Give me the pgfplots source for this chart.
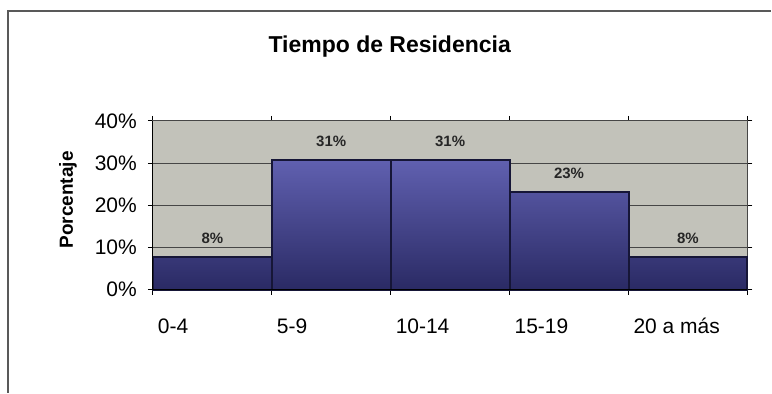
\documentclass[border=0pt]{standalone}
\usepackage{pgfplots}
\pgfplotsset{compat=1.18}
\usepackage{fontspec}
\setmainfont{Liberation Sans}
\definecolor{plotbg}{RGB}{194,194,186}
\definecolor{bartop}{RGB}{96,96,176}
\definecolor{barbot}{RGB}{42,42,100}
\definecolor{barline}{RGB}{22,22,55}
\definecolor{gridc}{RGB}{70,70,70}
\begin{document}
\begin{tikzpicture}
\path (0,0) rectangle (386pt,196.5pt);
\draw[gray!70!black, line width=0.6pt] (4pt,0) -- (4pt,191pt) -- (386pt,191pt);
\begin{axis}[
  at={(76.5pt,51.5pt)}, anchor=south west,
  scale only axis, width=297.5pt, height=84.5pt,
  xmin=0, xmax=5, ymin=0, ymax=40,
  axis background/.style={fill=plotbg},
  ybar, bar width=1, bar shift=0pt,
  xtick={0,1,2,3,4,5},
  xticklabels={0-4,5-9,10-14,15-19,20 a más,{}},
  xticklabel style={anchor=north west, xshift=-1pt, yshift=-8pt, text height=1.5ex, text depth=0.25ex, font=\fontsize{10.5}{12}\selectfont},
  ytick={0,10,20,30,40},
  yticklabel={\pgfmathprintnumber{\tick}\%},
  yticklabel style={font=\fontsize{10.5}{12}\selectfont, xshift=-2pt},
  /pgf/number format/assume math mode=true,
  tick align=outside, major tick length=2.5pt,
  tick style={black, line width=0.5pt},
  ymajorgrids, grid style={gridc, line width=0.5pt},
  axis line style={gridc, line width=0.6pt},
  nodes near coords={\pgfmathprintnumber[fixed,precision=0]{\pgfplotspointmeta}\%},
  every node near coord/.append style={font=\bfseries\fontsize{7.5}{8}\selectfont, anchor=center, yshift=9.5pt, text=black!85},
  clip=false,
]
\addplot[draw=barline, line width=1pt, top color=bartop, bottom color=barbot]
  coordinates {(0.5,7.69) (1.5,30.77) (2.5,30.77) (3.5,23.08) (4.5,7.69)};
\draw[black, line width=0.6pt] (axis cs:0,0) -- (axis cs:0,40);
\draw[black, line width=0.6pt] (axis cs:0,0) -- (axis cs:5,0);
\end{axis}
\node[font=\bfseries\fontsize{11.5}{13}\selectfont] at (195pt,173pt) {Tiempo de Residencia};
\node[rotate=90, font=\bfseries\fontsize{9.5}{11}\selectfont] at (34pt,96.5pt) {Porcentaje};
\end{tikzpicture}
\end{document}
